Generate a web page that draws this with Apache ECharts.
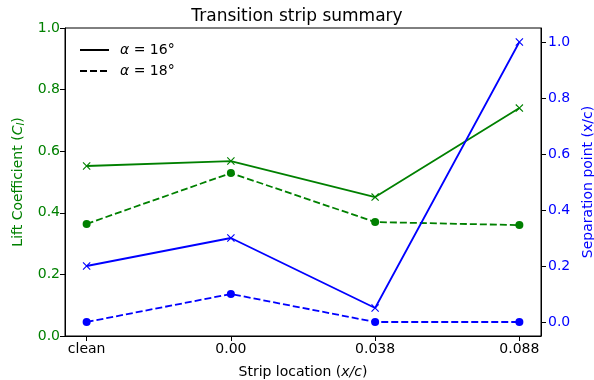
<!DOCTYPE html>
<html>
<head>
<meta charset="utf-8">
<script src="https://cdn.jsdelivr.net/npm/echarts@6/dist/echarts.min.js"></script>
<style>
  html, body { margin: 0; padding: 0; background: #fff; }
  #chart { width: 594px; height: 380px; }
</style>
</head>
<body>
<div id="chart"></div>
<script>
var categories = ['clean', '0.00', '0.038', '0.088'];
var lift16 = [0.552, 0.568, 0.451, 0.740];
var lift18 = [0.364, 0.529, 0.370, 0.360];
var sep16 = [0.20, 0.30, 0.05, 1.00];
var sep18 = [0.00, 0.10, 0.00, 0.00];

var GREEN = '#008000';
var BLUE = '#0000ff';
var FONT = 'DejaVu Sans';
var CROSS = 'path://M0,1L1,0L5,4L9,0L10,1L6,5L10,9L9,10L5,6L1,10L0,9L4,5Z';
var DASH = [7, 3];

function pts(arr) {
    return arr.map(function (v, i) { return [i, v]; });
}

function lineSeries(name, data, color, dashed, symbol, yIndex) {
    return {
        name: name,
        type: 'line',
        yAxisIndex: yIndex,
        data: pts(data),
        symbol: symbol,
        symbolSize: 8,
        color: color,
        itemStyle: { color: color },
        lineStyle: { color: color, width: 1.8, type: dashed ? DASH : 'solid' },
        z: 3
    };
}

var dom = document.getElementById('chart');
var myChart = echarts.init(dom);

var option = {
    backgroundColor: '#fff',
    animation: false,
    textStyle: { fontFamily: FONT },
    title: {
        text: 'Transition strip summary',
        left: 'center',
        top: 3,
        textStyle: { fontFamily: FONT, fontSize: 17, fontWeight: 'normal', color: '#000' }
    },
    legend: {
        orient: 'vertical',
        left: 74,
        top: 38,
        itemWidth: 29,
        itemHeight: 12,
        itemGap: 7,
        data: ['a16', 'a18'],
        itemStyle: { opacity: 0 },
        formatter: function (n) {
            return n === 'a16' ? '{i|α} = 16°' : '{i|α} = 18°';
        },
        textStyle: {
            fontFamily: FONT, fontSize: 14, color: '#000', padding: [0, 0, 0, 6],
            rich: { i: { fontStyle: 'italic', fontFamily: FONT, fontSize: 14 } }
        }
    },
    grid: {
        left: 65, right: 53, top: 28, bottom: 44,
        outerBoundsMode: 'none',
        containLabel: false,
        show: true, borderColor: '#000', borderWidth: 1, backgroundColor: 'transparent'
    },
    xAxis: {
        type: 'value',
        min: -0.15,
        max: 3.15,
        name: 'Strip location ({i|x/c})',
        nameLocation: 'middle',
        nameGap: 29,
        nameTextStyle: {
            fontFamily: FONT, fontSize: 14, color: '#000',
            rich: { i: { fontStyle: 'italic', fontFamily: FONT, fontSize: 14 } }
        },
        axisLine: { show: true, onZero: false, lineStyle: { color: '#000' } },
        axisTick: { show: true, customValues: [0, 1, 2, 3], length: 5, lineStyle: { color: '#000' } },
        axisLabel: {
            customValues: [0, 1, 2, 3],
            color: '#000', fontFamily: FONT, fontSize: 14, margin: 6,
            formatter: function (v) { return categories[Math.round(v)]; }
        },
        splitLine: { show: false }
    },
    yAxis: [{
        type: 'value',
        min: 0,
        max: 1,
        interval: 0.2,
        position: 'left',
        name: 'Lift Coefficient ({i|C}{s|l})',
        nameLocation: 'middle',
        nameRotate: 90,
        nameGap: 37,
        nameTextStyle: {
            fontFamily: FONT, fontSize: 14, color: GREEN,
            rich: {
                i: { fontStyle: 'italic', fontFamily: FONT, fontSize: 14, color: GREEN },
                s: { fontStyle: 'italic', fontFamily: FONT, fontSize: 10, color: GREEN, verticalAlign: 'bottom', padding: [6, 0, 0, 0] }
            }
        },
        axisLine: { show: true, onZero: false, lineStyle: { color: '#000' } },
        axisTick: { show: true, length: 5, lineStyle: { color: '#000' } },
        axisLabel: {
            color: GREEN, fontFamily: FONT, fontSize: 14, margin: 5,
            formatter: function (v) { return v.toFixed(1); }
        },
        splitLine: { show: false }
    }, {
        type: 'value',
        min: -0.05,
        max: 1.05,
        position: 'right',
        name: 'Separation point (x/c)',
        nameLocation: 'middle',
        nameRotate: 90,
        nameGap: 38,
        nameTextStyle: { fontFamily: FONT, fontSize: 14, color: BLUE },
        axisLine: { show: true, onZero: false, lineStyle: { color: '#000' } },
        axisTick: { show: true, customValues: [0, 0.2, 0.4, 0.6, 0.8, 1.0], length: 5, lineStyle: { color: '#000' } },
        axisLabel: {
            customValues: [0, 0.2, 0.4, 0.6, 0.8, 1.0],
            color: BLUE, fontFamily: FONT, fontSize: 14, margin: 7,
            formatter: function (v) { return v.toFixed(1); }
        },
        splitLine: { show: false }
    }],
    series: [
        lineSeries('lift16', lift16, GREEN, false, CROSS, 0),
        lineSeries('lift18', lift18, GREEN, true, 'circle', 0),
        lineSeries('sep16', sep16, BLUE, false, CROSS, 1),
        lineSeries('sep18', sep18, BLUE, true, 'circle', 1),
        { name: 'a16', type: 'line', data: [], symbol: 'none', color: '#000',
          lineStyle: { color: '#000', width: 1.8, type: 'solid' } },
        { name: 'a18', type: 'line', data: [], symbol: 'none', color: '#000',
          lineStyle: { color: '#000', width: 1.8, type: DASH } }
    ]
};

myChart.setOption(option);
</script>
</body>
</html>
